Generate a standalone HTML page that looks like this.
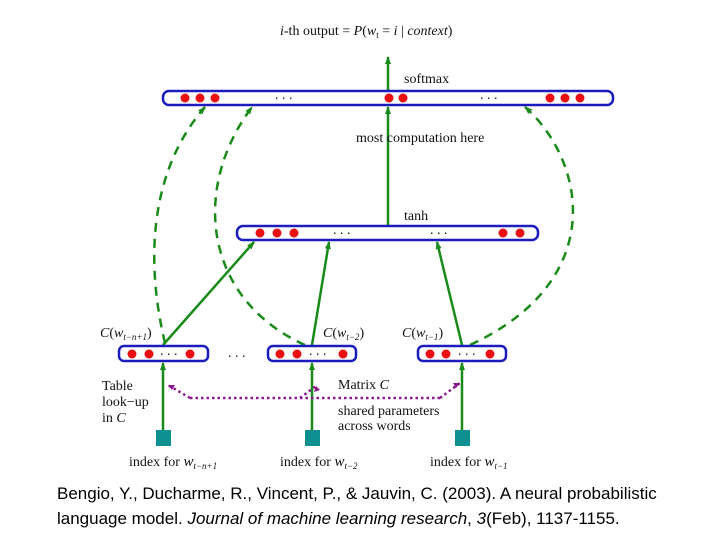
<!DOCTYPE html>
<html><head><meta charset="utf-8"><style>
body{margin:0;background:#fff;width:720px;height:540px;overflow:hidden;}
svg{position:absolute;left:0;top:0}
.s{font-family:"Liberation Serif",serif;font-size:14px;fill:#111}
.c{position:absolute;left:57px;top:481px;font-family:"Liberation Sans",sans-serif;font-size:17px;line-height:25px;color:#000}
</style></head><body>
<svg width="720" height="540" viewBox="0 0 720 540">
<defs>
<marker id="g" markerWidth="8" markerHeight="8" refX="7" refY="4" orient="auto" markerUnits="userSpaceOnUse"><path d="M0,1 L8,4 L0,7z" fill="#1a8a1a"/></marker>
<marker id="p" markerWidth="8" markerHeight="8" refX="7" refY="4" orient="auto" markerUnits="userSpaceOnUse"><path d="M0,1 L8,4 L0,7z" fill="#8a1a8a"/></marker>
</defs>
<text x="280" y="35" class="s" font-size="16"><tspan font-style="italic">i</tspan>-th output = <tspan font-style="italic">P</tspan>(<tspan font-style="italic">w</tspan><tspan font-size="9" dy="3">t</tspan><tspan dy="-3">  =  </tspan><tspan font-style="italic">i</tspan> | <tspan font-style="italic">context</tspan>)</text>
<g stroke="#1a8a1a" stroke-width="2.5" fill="none">
<line x1="388" y1="91" x2="388" y2="57" marker-end="url(#g)"/>
<line x1="388" y1="225" x2="388" y2="107" marker-end="url(#g)"/>
<line x1="163" y1="345" x2="254" y2="242" marker-end="url(#g)"/>
<line x1="312" y1="345" x2="329" y2="242" marker-end="url(#g)"/>
<line x1="462" y1="345" x2="437" y2="242" marker-end="url(#g)"/>
<line x1="163" y1="430" x2="163" y2="363" marker-end="url(#g)"/>
<line x1="312" y1="430" x2="312" y2="363" marker-end="url(#g)"/>
<line x1="462" y1="430" x2="462" y2="363" marker-end="url(#g)"/>
</g>
<g stroke="#1a8a1a" stroke-width="2.5" fill="none" stroke-dasharray="9,7">
<path d="M165,343 C145,260 150,170 205,107" marker-end="url(#g)"/>
<path d="M305,345 C205,300 190,190 252,107" marker-end="url(#g)"/>
<path d="M470,345 C610,280 585,160 525,107" marker-end="url(#g)"/>
</g>
<path d="M190,398 L440,398 M190,398 L168,385 M300,398 L316,386 M440,398 L460,383" stroke="#8a1a8a" stroke-width="2.5" stroke-dasharray="2.5,3" fill="none"/>
<path d="M168,385 l7,0 l-3,5z M460,383 l-7,0 l3,5z M316,386 l-2,6 l6,-2z" fill="#8a1a8a"/>
<g fill="none" stroke="#1c1cbe" stroke-width="2.5">
<rect x="163" y="91" width="450" height="14" rx="6"/>
<rect x="237" y="226" width="301" height="14" rx="6"/>
<rect x="119" y="346" width="89" height="15" rx="5"/>
<rect x="268" y="346" width="88" height="15" rx="5"/>
<rect x="418" y="346" width="88" height="15" rx="5"/>
</g>
<g fill="#e81010">
<circle cx="185" cy="98" r="4.5"/><circle cx="200" cy="98" r="4.5"/><circle cx="215" cy="98" r="4.5"/>
<circle cx="389" cy="98" r="4.5"/><circle cx="403" cy="98" r="4.5"/>
<circle cx="550" cy="98" r="4.5"/><circle cx="565" cy="98" r="4.5"/><circle cx="580" cy="98" r="4.5"/>
<circle cx="260" cy="233" r="4.5"/><circle cx="277" cy="233" r="4.5"/><circle cx="294" cy="233" r="4.5"/>
<circle cx="503" cy="233" r="4.5"/><circle cx="520" cy="233" r="4.5"/>
<circle cx="132" cy="354" r="4.5"/><circle cx="149" cy="354" r="4.5"/><circle cx="190" cy="354" r="4.5"/>
<circle cx="280" cy="354" r="4.5"/><circle cx="297" cy="354" r="4.5"/><circle cx="343" cy="354" r="4.5"/>
<circle cx="430" cy="354" r="4.5"/><circle cx="446" cy="354" r="4.5"/><circle cx="490" cy="354" r="4.5"/>
</g>
<g class="s" font-size="11" fill="#333">
<text x="275" y="99">. . .</text><text x="480" y="99">. . .</text>
<text x="333" y="234">. . .</text><text x="430" y="234">. . .</text>
<text x="160" y="355">. . .</text><text x="309" y="355">. . .</text><text x="458" y="355">. . .</text>
<text x="228" y="357">. . .</text>
</g>
<g fill="#0f9090"><rect x="156" y="430" width="15" height="16"/><rect x="305" y="430" width="15" height="16"/><rect x="455" y="430" width="15" height="16"/></g>
<text x="404" y="83" class="s">softmax</text>
<text x="356" y="142" class="s">most  computation here</text>
<text x="404" y="220" class="s">tanh</text>
<text x="100" y="337" class="s" font-size="15"><tspan font-style="italic">C</tspan>(<tspan font-style="italic">w</tspan><tspan font-size="9" dy="3" font-style="italic">t−n+1</tspan><tspan dy="-3">)</tspan></text>
<text x="323" y="337" class="s" font-size="15"><tspan font-style="italic">C</tspan>(<tspan font-style="italic">w</tspan><tspan font-size="9" dy="3" font-style="italic">t−2</tspan><tspan dy="-3">)</tspan></text>
<text x="402" y="337" class="s" font-size="15"><tspan font-style="italic">C</tspan>(<tspan font-style="italic">w</tspan><tspan font-size="9" dy="3" font-style="italic">t−1</tspan><tspan dy="-3">)</tspan></text>
<text x="102" y="390" class="s">Table</text><text x="102" y="406" class="s">look−up</text><text x="102" y="422" class="s">in <tspan font-style="italic">C</tspan></text>
<text x="338" y="389" class="s">Matrix <tspan font-style="italic">C</tspan></text>
<text x="338" y="415" class="s">shared parameters</text><text x="338" y="430" class="s">across words</text>
<text x="129" y="466" class="s">index for <tspan font-style="italic" font-size="15">w</tspan><tspan font-size="9" dy="3" font-style="italic">t−n+1</tspan></text>
<text x="280" y="466" class="s">index for <tspan font-style="italic" font-size="15">w</tspan><tspan font-size="9" dy="3" font-style="italic">t−2</tspan></text>
<text x="430" y="466" class="s">index for <tspan font-style="italic" font-size="15">w</tspan><tspan font-size="9" dy="3" font-style="italic">t−1</tspan></text>
</svg>
<div class="c">Bengio, Y., Ducharme, R., Vincent, P., &amp; Jauvin, C. (2003). A neural probabilistic<br>language model. <i>Journal of machine learning research</i>, <i>3</i>(Feb), 1137-1155.</div>
</body></html>
